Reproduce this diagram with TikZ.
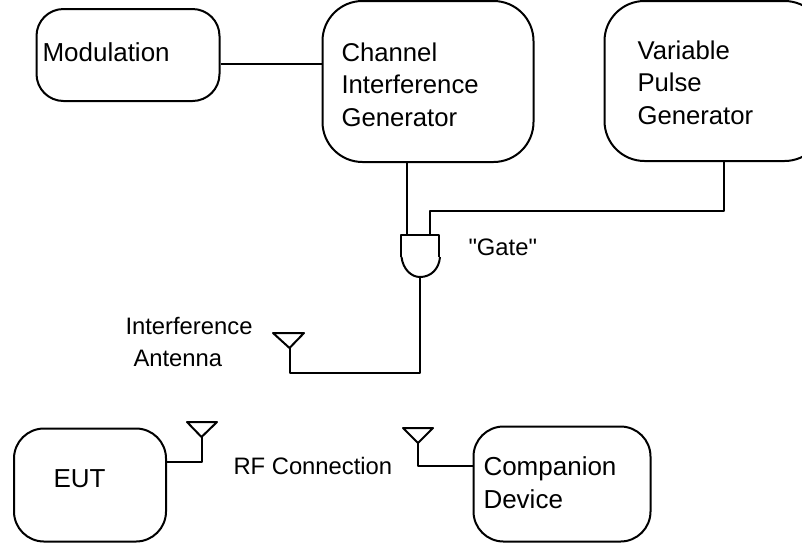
\documentclass[tikz,border=0pt]{standalone}
\usepackage{fontspec}
\setmainfont{Liberation Sans}
\newfontfamily\plainsans{Liberation Sans}
\begin{document}
\begin{tikzpicture}[x=1pt,y=-1pt,line width=2pt,line join=round,
  box/.style={draw,rounded corners=#1},
  big/.style={font=\fontsize{26}{33}\selectfont,align=left,anchor=west,inner sep=0pt},
  small/.style={font=\fontsize{23.8}{31}\selectfont,align=left,anchor=west,inner sep=0pt}]
\useasboundingbox (0,0) rectangle (802,542);
\clip (0,0) rectangle (802,542);
% boxes
\node[box=27pt,minimum width=183pt,minimum height=92pt,anchor=north west] (mod) at (35.5,8) {};
\node[box=40pt,minimum width=211pt,minimum height=161pt,anchor=north west] (chan) at (321.5,0) {};
\node[box=40pt,minimum width=220pt,minimum height=160pt,anchor=north west] (vpg) at (603.5,0) {};
\node[box=30pt,minimum width=152pt,minimum height=113pt,anchor=north west] (eut) at (13,427.5) {};
\node[box=30pt,minimum width=177pt,minimum height=115pt,anchor=north west] (comp) at (472.5,425.5) {};
% labels
\node[big] (tmod) at (41.5,52) {Modulation};
\node[big,font=\fontsize{25.7}{32.5}\selectfont] (tchan) at (340.5,84.5) {Channel\\Interference\\Generator};
\node[big,font=\fontsize{25.7}{32.5}\selectfont] (tvpg) at (636.5,82.5) {Variable\\Pulse\\Generator};
\node[big] (teut) at (52.5,479) {EUT};
\node[big] (tcomp) at (482.5,483) {Companion\\Device};
\node[small] (tgate) at (467.5,247) {\plainsans "Gate"};
\node[small] (tia) at (124.5,326) {Interference};
\node[small] (tib) at (132.5,358) {Antenna};
\node[small] (trf) at (232.5,466) {RF Connection};
% gate
\coordinate (gatea) at (407,235);
\coordinate (gateb) at (430,235);
\coordinate (gateo) at (420,277);
\draw (400.5,257) -- (400.5,235) -- (438.5,235) -- (438.5,257);
\draw (401.5,257) .. controls (403,269) and (411,277) .. (gateo) .. controls (431,277) and (439,269) .. (440,257);
% antennas
\coordinate (anti) at (289.5,348);
\coordinate (ante) at (201.5,437);
\coordinate (antc) at (418,443);
\draw (273,333) -- (304,333) -- (anti) -- cycle;
\draw (187,422) -- (217,422) -- (ante) -- cycle;
\draw (403,428) -- (433,428) -- (antc) -- cycle;
% connectors
\draw (mod.east |- 0,64) -- (chan.west |- 0,64);
\draw (gatea |- chan.south) -- (gatea);
\coordinate (vdrop) at (724,211);
\draw (vdrop |- vpg.south) -- (vdrop) -- (gateb |- vdrop) -- (gateb);
\draw (gateo) -- (gateo |- 0,373) -- (anti |- 0,373) -- (anti);
\draw (eut.east |- 0,462) -- (ante |- 0,462) -- (ante);
\draw (comp.west |- 0,466) -- (antc |- 0,466) -- (antc);
\end{tikzpicture}
\end{document}
